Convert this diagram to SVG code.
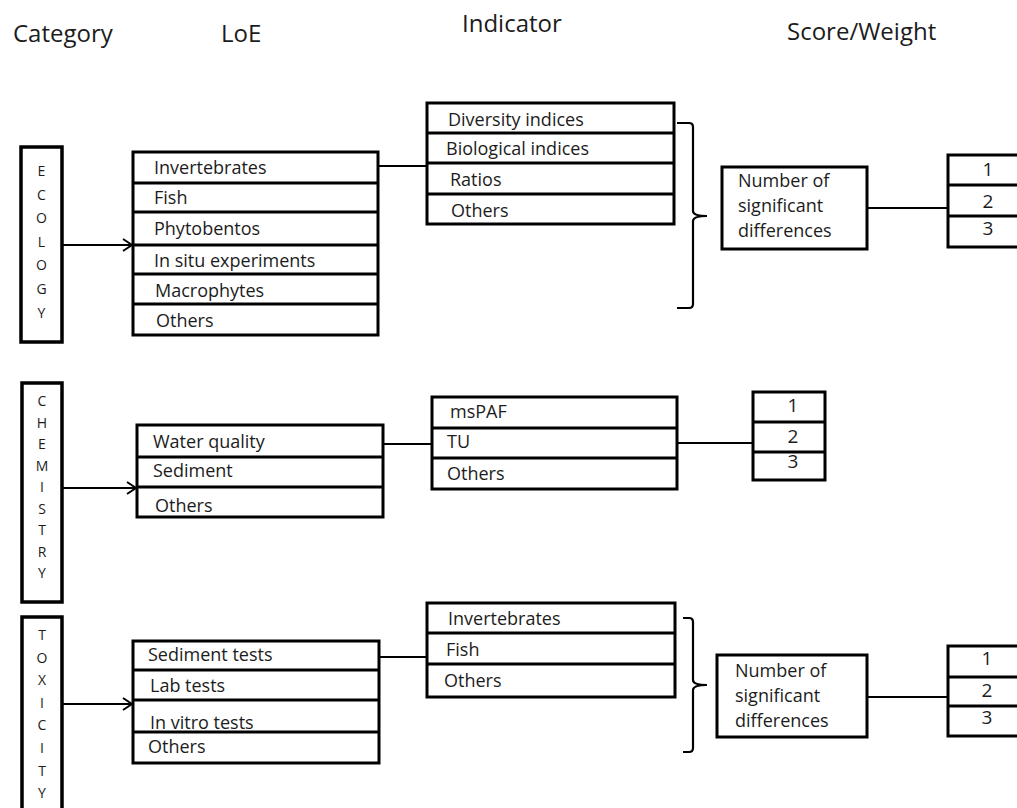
<svg xmlns="http://www.w3.org/2000/svg" width="1017" height="808" viewBox="0 0 1017 808">
<defs>
<style>
.bg{fill:#fff}
.box{fill:#fff;stroke:#000;stroke-width:3}
.cat{fill:#fff;stroke:#000;stroke-width:3.5}
.div{stroke:#000;stroke-width:3}
.conn{stroke:#000;stroke-width:1.8;fill:none}
.brace{stroke:#000;stroke-width:2.2;fill:none}
text{font-family:"Open Sans","Liberation Sans",sans-serif;fill:#1c1c1c}
.h{font-size:24px}
.t{font-size:18px}
.c{font-size:14px;text-anchor:middle}
.n{font-size:19px;text-anchor:middle}
</style>
<marker id="arr" markerWidth="12" markerHeight="14" refX="10" refY="7" orient="auto" markerUnits="userSpaceOnUse">
<path d="M1,1 L10,7 L1,13" fill="none" stroke="#000" stroke-width="2"/>
</marker>
</defs>
<rect class="bg" x="0" y="0" width="1017" height="808"/>

<g id="headers">
<text class="h" x="13" y="42">Category</text>
<text class="h" x="221" y="42">LoE</text>
<text class="h" x="462" y="32">Indicator</text>
<text class="h" x="787" y="40">Score/Weight</text>
</g>

<g id="connectors">
<line class="conn" x1="63" y1="245" x2="132" y2="245" marker-end="url(#arr)"/>
<line class="conn" x1="63" y1="488" x2="136" y2="488" marker-end="url(#arr)"/>
<line class="conn" x1="63" y1="704" x2="132" y2="704" marker-end="url(#arr)"/>
<line class="conn" x1="378" y1="166" x2="427" y2="166"/>
<line class="conn" x1="383" y1="444" x2="432" y2="444"/>
<line class="conn" x1="379" y1="657" x2="427" y2="657"/>
<line class="conn" x1="867" y1="208" x2="948" y2="208"/>
<line class="conn" x1="677" y1="443" x2="753" y2="443"/>
<line class="conn" x1="867" y1="697" x2="948" y2="697"/>
<path class="brace" d="M677,123 L689,123 Q693,123 693,127 L693,211 Q693,216 707,216 Q693,216 693,221 L693,304 Q693,308 689,308 L677,308"/>
<path class="brace" d="M683,618 L689,618 Q693,618 693,622 L693,680 Q693,685 707,685 Q693,685 693,690 L693,748 Q693,752 689,752 L683,752"/>
</g>

<g id="cat-ecology">
<rect class="cat" x="21" y="147" width="41" height="195"/>
<text class="c" x="41.5" y="176">E</text>
<text class="c" x="41.5" y="199.6">C</text>
<text class="c" x="41.5" y="223.2">O</text>
<text class="c" x="41.5" y="246.8">L</text>
<text class="c" x="41.5" y="270.4">O</text>
<text class="c" x="41.5" y="294">G</text>
<text class="c" x="41.5" y="317.6">Y</text>
</g>

<g id="cat-chemistry">
<rect class="cat" x="22" y="383" width="40" height="219"/>
<text class="c" x="42" y="406">C</text>
<text class="c" x="42" y="427.5">H</text>
<text class="c" x="42" y="449">E</text>
<text class="c" x="42" y="470.5">M</text>
<text class="c" x="42" y="492">I</text>
<text class="c" x="42" y="513.5">S</text>
<text class="c" x="42" y="535">T</text>
<text class="c" x="42" y="556.5">R</text>
<text class="c" x="42" y="578">Y</text>
</g>

<g id="cat-toxicity">
<rect class="cat" x="22" y="617" width="40" height="210"/>
<text class="c" x="42" y="640">T</text>
<text class="c" x="42" y="662.6">O</text>
<text class="c" x="42" y="685.2">X</text>
<text class="c" x="42" y="707.8">I</text>
<text class="c" x="42" y="730.4">C</text>
<text class="c" x="42" y="753">I</text>
<text class="c" x="42" y="775.6">T</text>
<text class="c" x="42" y="798.2">Y</text>
</g>

<g id="loe-ecology">
<rect class="box" x="133" y="152" width="245" height="183"/>
<line class="div" x1="133" y1="183" x2="378" y2="183"/>
<line class="div" x1="133" y1="212" x2="378" y2="212"/>
<line class="div" x1="133" y1="245" x2="378" y2="245"/>
<line class="div" x1="133" y1="274" x2="378" y2="274"/>
<line class="div" x1="133" y1="304" x2="378" y2="304"/>
<text class="t" x="154" y="174">Invertebrates</text>
<text class="t" x="154" y="204">Fish</text>
<text class="t" x="154" y="235">Phytobentos</text>
<text class="t" x="154" y="267">In situ experiments</text>
<text class="t" x="155" y="297">Macrophytes</text>
<text class="t" x="156" y="327">Others</text>
</g>

<g id="ind-ecology">
<rect class="box" x="427" y="103" width="247" height="121"/>
<line class="div" x1="427" y1="133" x2="674" y2="133"/>
<line class="div" x1="427" y1="163" x2="674" y2="163"/>
<line class="div" x1="427" y1="194" x2="674" y2="194"/>
<text class="t" x="448" y="126">Diversity indices</text>
<text class="t" x="446" y="155">Biological indices</text>
<text class="t" x="450" y="186">Ratios</text>
<text class="t" x="451" y="217">Others</text>
</g>

<g id="num-ecology">
<rect class="box" x="722" y="167" width="145" height="82"/>
<text class="t" x="738" y="187">Number of</text>
<text class="t" x="738" y="212">significant</text>
<text class="t" x="738" y="237">differences</text>
</g>

<g id="score-ecology">
<rect class="box" x="948" y="155" width="90" height="92"/>
<line class="div" x1="948" y1="185" x2="1038" y2="185"/>
<line class="div" x1="948" y1="216" x2="1038" y2="216"/>
<text class="n" x="988" y="176">1</text>
<text class="n" x="988" y="208">2</text>
<text class="n" x="988" y="235">3</text>
</g>

<g id="loe-chemistry">
<rect class="box" x="137" y="425" width="246" height="92"/>
<line class="div" x1="137" y1="457" x2="383" y2="457"/>
<line class="div" x1="137" y1="487" x2="383" y2="487"/>
<text class="t" x="153" y="448">Water quality</text>
<text class="t" x="153" y="477">Sediment</text>
<text class="t" x="155" y="512">Others</text>
</g>

<g id="ind-chemistry">
<rect class="box" x="432" y="397" width="245" height="92"/>
<line class="div" x1="432" y1="428" x2="677" y2="428"/>
<line class="div" x1="432" y1="458" x2="677" y2="458"/>
<text class="t" x="450" y="418">msPAF</text>
<text class="t" x="447" y="448">TU</text>
<text class="t" x="447" y="480">Others</text>
</g>

<g id="score-chemistry">
<rect class="box" x="753" y="392" width="72" height="88"/>
<line class="div" x1="753" y1="422" x2="825" y2="422"/>
<line class="div" x1="753" y1="452" x2="825" y2="452"/>
<text class="n" x="793" y="412">1</text>
<text class="n" x="793" y="443">2</text>
<text class="n" x="793" y="468">3</text>
</g>

<g id="loe-toxicity">
<rect class="box" x="133" y="641" width="246" height="122"/>
<line class="div" x1="133" y1="670" x2="379" y2="670"/>
<line class="div" x1="133" y1="700" x2="379" y2="700"/>
<line class="div" x1="133" y1="732" x2="379" y2="732"/>
<text class="t" x="148" y="661">Sediment tests</text>
<text class="t" x="150" y="692">Lab tests</text>
<text class="t" x="150" y="729">In vitro tests</text>
<text class="t" x="148" y="753">Others</text>
</g>

<g id="ind-toxicity">
<rect class="box" x="427" y="603" width="248" height="94"/>
<line class="div" x1="427" y1="633" x2="675" y2="633"/>
<line class="div" x1="427" y1="664" x2="675" y2="664"/>
<text class="t" x="448" y="625">Invertebrates</text>
<text class="t" x="446" y="656">Fish</text>
<text class="t" x="444" y="687">Others</text>
</g>

<g id="num-toxicity">
<rect class="box" x="717" y="655" width="150" height="82"/>
<text class="t" x="735" y="677">Number of</text>
<text class="t" x="735" y="702">significant</text>
<text class="t" x="735" y="727">differences</text>
</g>

<g id="score-toxicity">
<rect class="box" x="948" y="646" width="90" height="90"/>
<line class="div" x1="948" y1="677" x2="1038" y2="677"/>
<line class="div" x1="948" y1="706" x2="1038" y2="706"/>
<text class="n" x="987" y="665">1</text>
<text class="n" x="987" y="697">2</text>
<text class="n" x="987" y="724">3</text>
</g>
</svg>
